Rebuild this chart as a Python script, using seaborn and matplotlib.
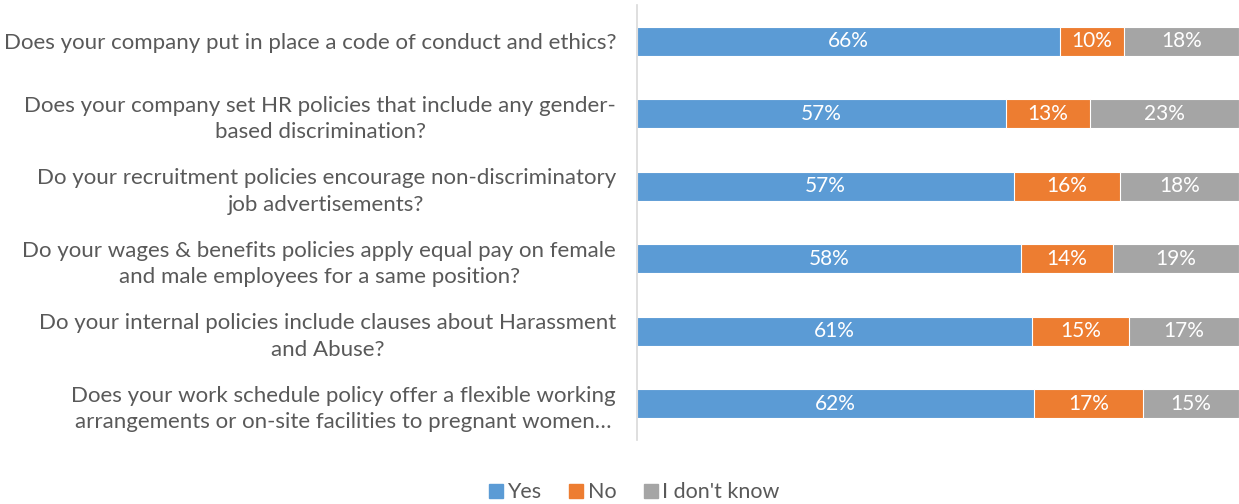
import matplotlib.pyplot as plt
import seaborn as sns
import pandas as pd

questions = [
    "Does your company put in place a code of conduct and ethics?",
    "Does your company set HR policies that include any gender-\nbased discrimination?",
    "Do your recruitment policies encourage non-discriminatory\njob advertisements?",
    "Do your wages & benefits policies apply equal pay on female\nand male employees for a same position?",
    "Do your internal policies include clauses about Harassment\nand Abuse?",
    "Does your work schedule policy offer a flexible working\narrangements or on-site facilities to pregnant women\u2026",
]
yes = [66, 57, 57, 58, 61, 62]
no = [10, 13, 16, 14, 15, 17]
dont_know = [18, 23, 18, 19, 17, 15]

series = ["Yes", "No", "I don't know"]
colors = ["#5B9BD5", "#ED7D31", "#A5A5A5"]

sns.set_style("white")
plt.rcParams["font.family"] = ["Lato", "DejaVu Sans"]

df = pd.DataFrame({"q": questions, "Yes": yes, "No": no, "I don't know": dont_know})
total = df[series].sum(axis=1)
# 100% stacked: share of answered
share = df[series].div(total, axis=0) * 100
df["c1"] = share["Yes"]
df["c2"] = share["Yes"] + share["No"]
df["c3"] = share["Yes"] + share["No"] + share["I don't know"]

fig = plt.figure(figsize=(12.39, 5.04), dpi=100)
ax = fig.add_axes([0.514, 0.127, 0.486, 0.863])

# draw cumulative layers back to front
for col, c in zip(["c3", "c2", "c1"], colors[::-1]):
    sns.barplot(data=df, x=col, y="q", color=c, width=0.4, orient="h",
                edgecolor="white", linewidth=0.8, ax=ax, saturation=1)

for i in range(len(questions)):
    left = 0
    for s in series:
        w = share.loc[i, s]
        ax.text(left + w / 2, i, f"{df.loc[i, s]}%", ha="center", va="center",
                color="white", fontsize=15)
        left += w

ax.set_xlim(0, 100)
ax.set_ylim(5.5, -0.5)
ax.set_xlabel("")
ax.set_ylabel("")
ax.set_xticks([])
ax.tick_params(axis="y", length=0, pad=15, labelsize=16, labelcolor="#595959")
for lab in ax.get_yticklabels():
    lab.set_multialignment("center")
    lab.set_linespacing(1.4)
for side in ["top", "right", "bottom"]:
    ax.spines[side].set_visible(False)
ax.spines["left"].set_color("#D9D9D9")
ax.spines["left"].set_linewidth(1.2)

handles = [plt.Rectangle((0, 0), 1, 1, color=c) for c in colors]
fig.legend(handles, series, loc="lower center", bbox_to_anchor=(0.512, -0.035), ncol=3,
           frameon=False, fontsize=15.5, handlelength=0.65, handleheight=0.65,
           handletextpad=0.2, columnspacing=1.3, labelcolor="#595959")

fig.savefig("out.png", dpi=100)
